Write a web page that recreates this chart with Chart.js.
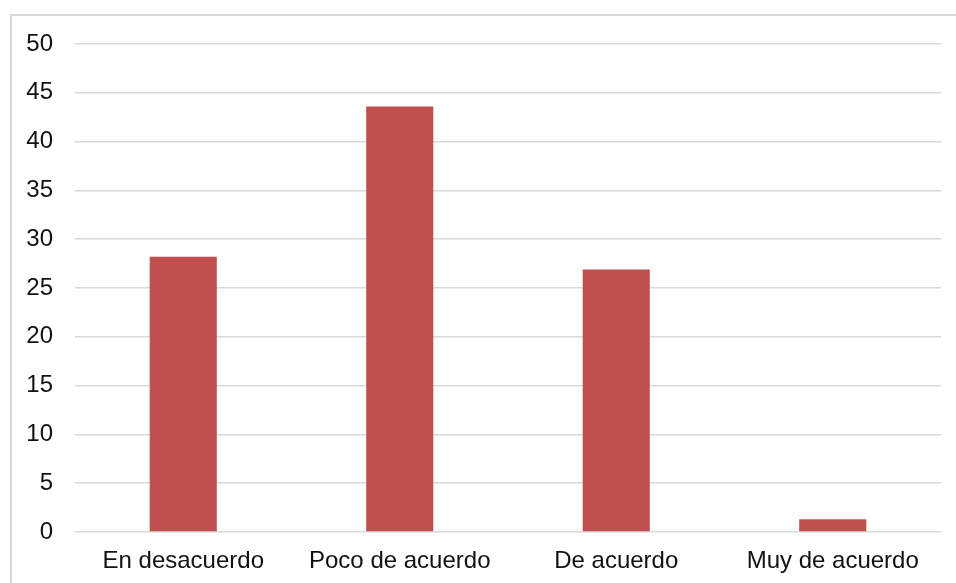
<!DOCTYPE html>
<html>
<head>
<meta charset="utf-8">
<script src="https://cdn.jsdelivr.net/npm/chart.js@4/dist/chart.umd.min.js"></script>
<style>
  html, body { margin: 0; padding: 0; background: #fff; overflow: hidden; }
  #wrap { position: relative; width: 956px; height: 583px; }
  #frame { position: absolute; left: 10px; top: 14px; width: 980px; height: 620px; border: 2px solid #d9d9d9; box-sizing: border-box; }
  #myChart { position: absolute; left: 0; top: 0; }
</style>
</head>
<body>
<div id="wrap">
  <div id="frame"></div>
  <canvas id="myChart" width="956" height="583"></canvas>
</div>
<script>
const categories = ["En desacuerdo", "Poco de acuerdo", "De acuerdo", "Muy de acuerdo"];
const values = [28.2, 43.6, 26.9, 1.3];
const yTicks = [0, 5, 10, 15, 20, 25, 30, 35, 40, 45, 50];

const myChart = document.getElementById("myChart");

const data = {
    labels: categories,
    datasets: [
        {
            data: values,
            backgroundColor: "#C0504D",
            barPercentage: 0.31,
            categoryPercentage: 1,
        },
    ],
};

const config = {
    type: "bar",
    data,
    options: {
        responsive: false,
        animation: false,
        layout: { padding: { top: 44, right: 15, left: 0, bottom: 0 } },
        plugins: { legend: { display: false }, tooltip: { enabled: false } },
        scales: {
            x: {
                grid: { display: false, drawTicks: false },
                border: { display: false },
                ticks: { color: "#111", font: { family: "Liberation Sans", size: 24 }, padding: 15, maxRotation: 0 },
                afterFit: (scale) => { scale.height = 51; },
            },
            y: {
                min: 0,
                max: 50,
                afterBuildTicks: (scale) => { scale.ticks = yTicks.map((v) => ({ value: v })); },
                grid: { color: "#d9d9d9", lineWidth: 1.5, drawTicks: false },
                border: { display: false },
                ticks: { color: "#111", font: { family: "Liberation Sans", size: 24 }, padding: 22 },
                afterFit: (scale) => { scale.width = 75; },
            },
        },
    },
};

new Chart(myChart, config);
</script>
</body>
</html>
